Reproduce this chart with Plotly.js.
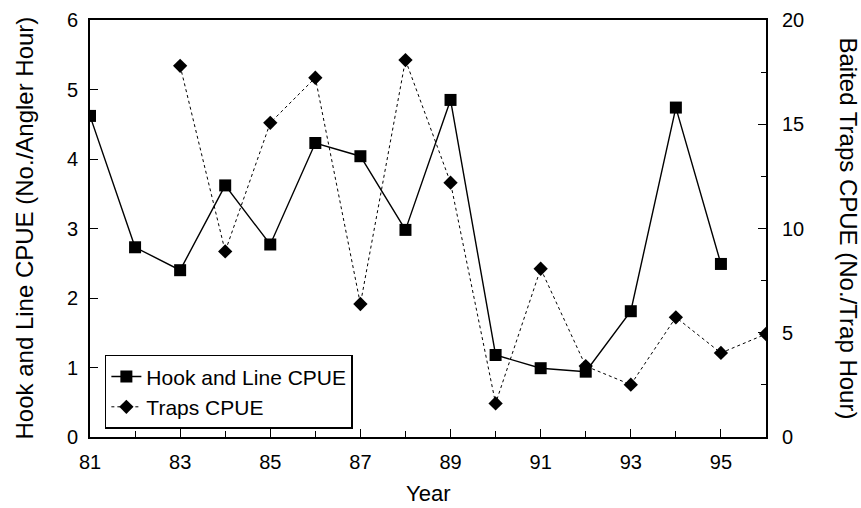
<!DOCTYPE html>
<html>
<head>
<meta charset="utf-8">
<script src="https://cdn.plot.ly/plotly-3.0.1.min.js"></script>
<style>html,body{margin:0;padding:0;background:#fff;}#chart{width:861px;height:508px;}</style>
</head>
<body>
<div id="chart"></div>
<script>
const hookYears = [81, 82, 83, 84, 85, 86, 87, 88, 89, 90, 91, 92, 93, 94, 95];
const hookCPUE = [4.62, 2.73, 2.40, 3.62, 2.77, 4.23, 4.04, 2.98, 4.85, 1.18, 0.99, 0.94, 1.81, 4.74, 2.49];
const trapYears = [83, 84, 85, 86, 87, 88, 89, 90, 91, 92, 93, 94, 95, 96];
const trapCPUE = [17.8, 8.9, 15.07, 17.23, 6.38, 18.08, 12.2, 1.61, 8.07, 3.4, 2.51, 5.74, 4.03, 4.94];
const xTickVals = [81, 83, 85, 87, 89, 91, 93, 95];
const xTickText = ['81', '83', '85', '87', '89', '91', '93', '95'];
const xMinorVals = [82, 84, 86, 88, 90, 92, 94, 96];

const FONT = 'Liberation Sans, Arial, sans-serif';

const traces = [
  {
    x: hookYears, y: hookCPUE, name: 'Hook and Line CPUE', type: 'scatter', mode: 'lines+markers',
    line: {color: '#000', width: 1.4},
    marker: {symbol: 'square', size: 12, color: '#000'},
    yaxis: 'y'
  },
  {
    x: trapYears, y: trapCPUE, name: 'Traps CPUE', type: 'scatter', mode: 'lines+markers',
    line: {color: '#000', width: 1, dash: 'dot'},
    marker: {symbol: 'diamond', size: 11, color: '#000'},
    yaxis: 'y2'
  }
];

const layout = {
  width: 861, height: 508,
  margin: {l: 90, r: 95, t: 20, b: 71},
  paper_bgcolor: '#fff', plot_bgcolor: '#fff',
  font: {family: FONT, size: 20, color: '#000'},
  showlegend: true,
  legend: {
    x: 0.022, y: 0.197, xanchor: 'left', yanchor: 'top',
    bordercolor: '#000', borderwidth: 1.5, bgcolor: '#fff',
    font: {family: FONT, size: 21, color: '#000'},
    tracegroupgap: 0, itemwidth: 30
  },
  xaxis: {
    range: [81, 96], tickvals: xTickVals, ticktext: xTickText,
    ticks: 'inside', ticklen: 8, tickwidth: 1, tickcolor: '#000',
    minor: {tickvals: xMinorVals, ticks: 'inside', ticklen: 6, tickcolor: '#000'},
    showline: true, linecolor: '#000', linewidth: 2, mirror: true,
    showgrid: false, zeroline: false, ticklabelstandoff: 6,
    tickfont: {family: FONT, size: 20, color: '#000'}
  },
  yaxis: {
    range: [0, 6], dtick: 1, tick0: 0,
    ticks: 'inside', ticklen: 8, tickwidth: 1, tickcolor: '#000',
    showline: true, linecolor: '#000', linewidth: 2,
    showgrid: false, zeroline: false, ticklabelstandoff: 6,
    tickfont: {family: FONT, size: 20, color: '#000'}
  },
  yaxis2: {
    range: [0, 20], dtick: 5, tick0: 0, overlaying: 'y', side: 'right',
    ticks: 'inside', ticklen: 8, tickwidth: 1, tickcolor: '#000',
    minor: {dtick: 2.5, ticks: 'inside', ticklen: 5, tickcolor: '#000'},
    showline: true, linecolor: '#000', linewidth: 2,
    showgrid: false, zeroline: false, ticklabelstandoff: 10,
    tickfont: {family: FONT, size: 20, color: '#000'}
  },
  annotations: [
    {
      text: 'Hook and Line CPUE (No./Angler Hour)', xref: 'paper', yref: 'paper',
      x: 0, xshift: -66, y: 0.5, textangle: -90, showarrow: false,
      xanchor: 'center', yanchor: 'middle',
      font: {family: FONT, size: 24, color: '#000'}
    },
    {
      text: 'Baited Traps CPUE (No./Trap Hour)', xref: 'paper', yref: 'paper',
      x: 1, xshift: 82, y: 0.5, textangle: 90, showarrow: false,
      xanchor: 'center', yanchor: 'middle',
      font: {family: FONT, size: 24, color: '#000'}
    },
    {
      text: 'Year', xref: 'paper', yref: 'paper',
      x: 0.5, y: 0, yshift: -56, showarrow: false,
      xanchor: 'center', yanchor: 'middle',
      font: {family: FONT, size: 22, color: '#000'}
    }
  ]
};

Plotly.newPlot('chart', traces, layout, {displayModeBar: false, staticPlot: true});
</script>
</body>
</html>
